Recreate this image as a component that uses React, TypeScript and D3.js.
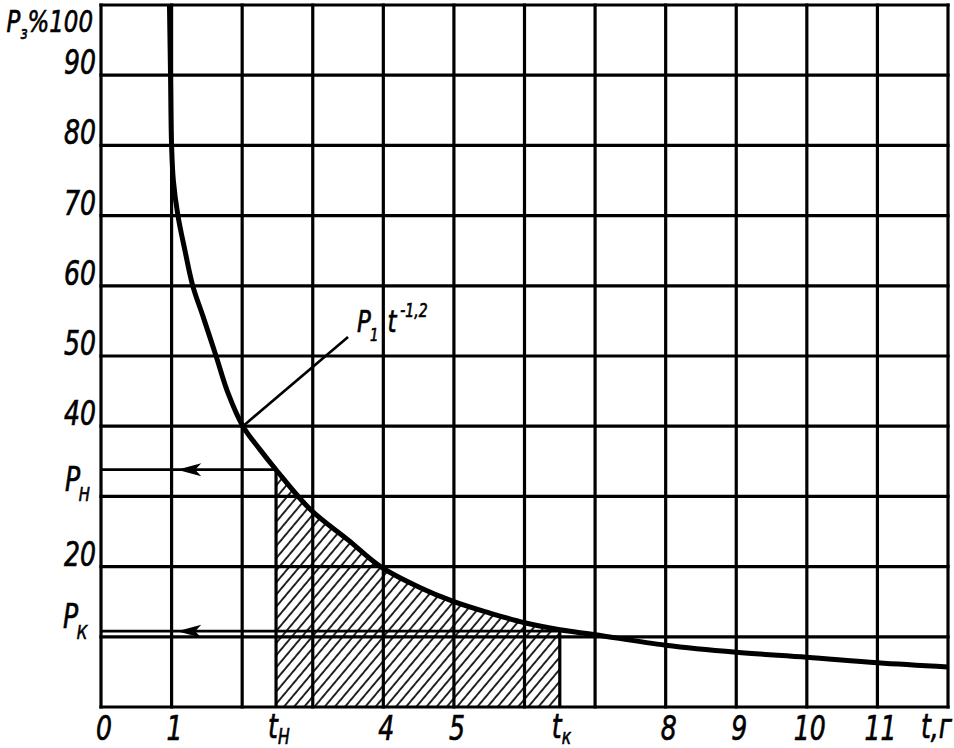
import React from "react";
import * as d3 from "d3";

// Curve values: time t (years) and P (%)
const tValues = [0.97, 0.985, 1.0, 1.025, 1.09, 1.19, 1.3, 1.45, 1.63, 1.8, 2.01, 2.25, 2.48, 2.97, 3.5, 3.96, 4.5, 5.0, 5.5, 6.0, 6.5, 7.0, 8, 9, 10, 11, 12];
const pValues = [100, 90, 80, 75, 70, 65, 60, 55.5, 50, 44.7, 40, 36.7, 33.8, 28.1, 23.8, 20, 17.1, 15.0, 13.4, 12.0, 11.0, 10.3, 8.8, 7.8, 7.1, 6.3, 5.7];

const tH = 2.48;
const tK = 6.5;
const pH = 33.8;
const pK = 10.8;

const xGrid = [0, 1, 2, 3, 4, 5, 6, 7, 8, 9, 10, 11, 12];
const yGrid = [0, 10, 20, 30, 40, 50, 60, 70, 80, 90, 100];

const xTickValues = [0, 1, 4, 5, 8, 9, 10, 11];
const xTickLabels = ["0", "1", "4", "5", "8", "9", "10", "11"];
const yTickValues = [90, 80, 70, 60, 50, 40, 20];
const yTickLabels = ["90", "80", "70", "60", "50", "40", "20"];

const arrowT = 1.08;
const leaderFrom = [2.01, 40];
const leaderTo = [3.5, 52.7];

const W = 954;
const H = 748;
const FONT = "'DejaVu Sans', 'Liberation Sans', sans-serif";
const SX = 0.74;

function T(props: { x: number; y: number; anchor?: string; size?: number; children: React.ReactNode }) {
  const { x, y, anchor = "start", size = 34, children } = props;
  return (
    <g transform={`translate(${x},${y}) scale(${SX},1)`}>
      <text
        x={0}
        y={0}
        textAnchor={anchor}
        fontFamily={FONT}
        fontStyle="italic"
        fontSize={size}
        fill="#000"
        stroke="#000"
        strokeWidth={0.7}
      >
        {children}
      </text>
    </g>
  );
}

export default function App() {
  const x = d3.scaleLinear().domain([0, 12]).range([101, 948]);
  const y = d3.scaleLinear().domain([0, 100]).range([707, 5]);

  const pts: [number, number][] = tValues.map((t, i) => [t, pValues[i]]);
  const curve = d3.curveCatmullRom.alpha(0.5);
  const line = d3
    .line<[number, number]>()
    .x((d) => x(d[0]))
    .y((d) => y(d[1]))
    .curve(curve);
  const area = d3
    .area<[number, number]>()
    .x((d) => x(d[0]))
    .y0(y(0))
    .y1((d) => y(d[1]))
    .curve(d3.curveMonotoneX);

  const gridW = 3.2;

  const arrow = (py: number) => {
    const tx = x(arrowT);
    return `M${tx},${py} L${tx + 24},${py - 6.5} L${tx + 18},${py} L${tx + 24},${py + 6.5} Z`;
  };

  return (
    <svg width={W} height={H} style={{ position: "absolute", left: 0, top: 0, background: "#fff" }}>
      <defs>
        <pattern id="hatch" patternUnits="userSpaceOnUse" width={7.8} height={7.8} patternTransform="rotate(40)">
          <line x1={1} y1={0} x2={1} y2={7.8} stroke="#000" strokeWidth={1.7} />
        </pattern>
        <clipPath id="hclip">
          <rect x={x(tH)} y={y(100)} width={x(tK) - x(tH)} height={y(0) - y(100)} />
        </clipPath>
      </defs>

      {/* hatched area */}
      <path d={area(pts) || ""} fill="url(#hatch)" clipPath="url(#hclip)" />

      {/* grid */}
      {yGrid.map((v) => (
        <line key={"h" + v} x1={x(0)} x2={x(12)} y1={y(v)} y2={y(v)} stroke="#000" strokeWidth={gridW} strokeLinecap="square" />
      ))}
      {xGrid.map((v) => (
        <line key={"v" + v} x1={x(v)} x2={x(v)} y1={y(0)} y2={y(100)} stroke="#000" strokeWidth={gridW} strokeLinecap="square" />
      ))}

      {/* t_H and t_K verticals */}
      <line x1={x(tH)} x2={x(tH)} y1={y(0)} y2={y(pH)} stroke="#000" strokeWidth={gridW} />
      <line x1={x(tK)} x2={x(tK)} y1={y(0)} y2={y(pK)} stroke="#000" strokeWidth={gridW} />

      {/* P_H and P_K horizontal lines with arrows */}
      <line x1={x(0)} x2={x(tH)} y1={y(pH)} y2={y(pH)} stroke="#000" strokeWidth={2.8} />
      <line x1={x(0)} x2={x(tK)} y1={y(pK)} y2={y(pK)} stroke="#000" strokeWidth={2.8} />
      <path d={arrow(y(pH))} fill="#000" />
      <path d={arrow(y(pK))} fill="#000" />

      {/* curve */}
      <path d={line(pts) || ""} fill="none" stroke="#000" strokeWidth={5} strokeLinejoin="round" />

      {/* leader line */}
      <line x1={x(leaderFrom[0])} y1={y(leaderFrom[1])} x2={x(leaderTo[0])} y2={y(leaderTo[1])} stroke="#000" strokeWidth={2.6} />
      <T x={x(leaderTo[0]) + 9} y={y(leaderTo[1]) - 5} size={31}>
        P
        <tspan fontSize={18} dy={9} dx={-1}>1</tspan>
        <tspan fontSize={31} dy={-9} dx={12}>t</tspan>
        <tspan fontSize={19} dy={-15} dx={5}>-1,2</tspan>
      </T>

      {/* y tick labels */}
      {yTickValues.map((v, i) => (
        <T key={"yl" + v} x={x(0) - 5} y={y(v) - 1} anchor="end">
          {yTickLabels[i]}
        </T>
      ))}
      <T x={x(0) - 8} y={y(100) + 27} anchor="end" size={31}>
        P<tspan fontSize={18} dy={7}>з</tspan>
        <tspan dy={-7}>%100</tspan>
      </T>
      <T x={x(0) - 36} y={y(pH) + 21}>
        P<tspan fontSize={20} dy={10} dx={-2}>Н</tspan>
      </T>
      <T x={x(0) - 38} y={y(pK) - 3}>
        P<tspan fontSize={20} dy={11} dx={-2}>К</tspan>
      </T>

      {/* x tick labels */}
      {xTickValues.map((v, i) => (
        <T key={"xl" + v} x={x(v) + 3} y={740} anchor="middle">
          {xTickLabels[i]}
        </T>
      ))}
      <T x={x(tH) - 8} y={738}>
        t<tspan fontSize={21} dy={6}>Н</tspan>
      </T>
      <T x={x(tK) - 8} y={738}>
        t<tspan fontSize={21} dy={6}>к</tspan>
      </T>
      <T x={x(12) + 4} y={738} anchor="end">
        t,г
      </T>
    </svg>
  );
}
